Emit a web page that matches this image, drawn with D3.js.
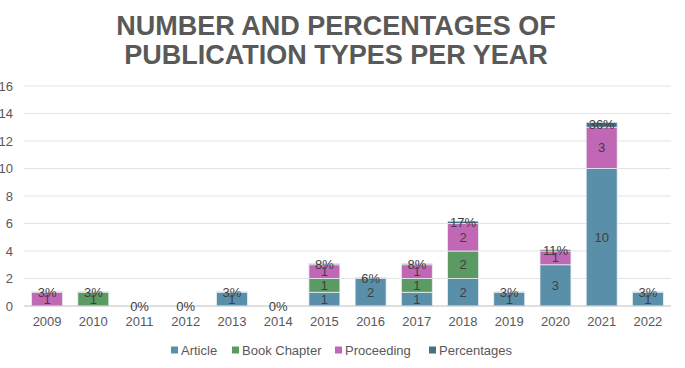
<!DOCTYPE html>
<html>
<head>
<meta charset="utf-8">
<script src="https://cdn.jsdelivr.net/npm/d3@7"></script>
<style>
  body { margin: 0; background: #fff; }
  text { font-family: "Liberation Sans", Arial, sans-serif; }
</style>
</head>
<body>
<svg id="chart"></svg>
<script>
// data
const years = ["2009", "2010", "2011", "2012", "2013", "2014", "2015", "2016", "2017", "2018", "2019", "2020", "2021", "2022"];
const article = [0, 0, 0, 0, 1, 0, 1, 2, 1, 2, 1, 3, 10, 1];
const bookChapter = [0, 1, 0, 0, 0, 0, 1, 0, 1, 2, 0, 0, 0, 0];
const proceeding = [1, 0, 0, 0, 0, 0, 1, 0, 1, 2, 0, 1, 3, 0];
const percentages = [0.03, 0.03, 0, 0, 0.03, 0, 0.08, 0.06, 0.08, 0.17, 0.03, 0.11, 0.36, 0.03];
const yTicks = [0, 2, 4, 6, 8, 10, 12, 14, 16];

const seriesNames = ["Article", "Book Chapter", "Proceeding", "Percentages"];
const colors = ["#5a8fa9", "#5c9a63", "#c067b6", "#4b6f84"];

const width = 685, height = 368;
const margin = { top: 86, right: 14, bottom: 62, left: 24 };

const svg = d3.select("#chart")
    .attr("width", width)
    .attr("height", height);

// title
const title = svg.append("text")
    .attr("text-anchor", "middle")
    .style("font-size", "27px")
    .style("font-weight", "bold")
    .attr("fill", "#595959");
title.append("tspan").attr("x", 336).attr("y", 35).text("NUMBER AND PERCENTAGES OF");
title.append("tspan").attr("x", 336).attr("y", 64).text("PUBLICATION TYPES PER YEAR");

const rows = years.map((y, i) => ({
    year: y,
    "Article": article[i],
    "Book Chapter": bookChapter[i],
    "Proceeding": proceeding[i],
    "Percentages": percentages[i]
}));

const stack = d3.stack().keys(seriesNames)(rows);

const x = d3.scaleBand()
    .domain(years)
    .range([margin.left, width - margin.right])
    .paddingInner(0.33)
    .paddingOuter(0.165);

const y = d3.scaleLinear()
    .domain([0, 16])
    .range([height - margin.bottom, margin.top]);

// gridlines
svg.append("g")
    .selectAll("line")
    .data(yTicks.slice(1))
    .enter()
    .append("line")
    .attr("x1", margin.left)
    .attr("x2", width - margin.right)
    .attr("y1", d => y(d))
    .attr("y2", d => y(d))
    .attr("stroke", "#e3e3e3")
    .attr("stroke-width", 1);

// y labels
svg.append("g")
    .selectAll("text")
    .data(yTicks)
    .enter()
    .append("text")
    .attr("x", 13)
    .attr("y", d => y(d))
    .attr("dy", "0.35em")
    .attr("text-anchor", "end")
    .style("font-size", "13px")
    .attr("fill", "#595959")
    .text(d => d);

// bars
const layers = svg.append("g")
    .selectAll("g")
    .data(stack)
    .enter()
    .append("g")
    .attr("fill", (d, i) => colors[i]);

layers.selectAll("rect")
    .data(d => d)
    .enter()
    .append("rect")
    .attr("x", d => x(d.data.year))
    .attr("y", d => y(d[1]))
    .attr("width", x.bandwidth())
    .attr("height", d => y(d[0]) - y(d[1]))
    .attr("stroke", "#e8eef2")
    .attr("stroke-width", 0.8);

// x axis line
svg.append("line")
    .attr("x1", margin.left)
    .attr("x2", width - margin.right)
    .attr("y1", y(0))
    .attr("y2", y(0))
    .attr("stroke", "#bfbfbf")
    .attr("stroke-width", 1);

// x labels
svg.append("g")
    .selectAll("text")
    .data(years)
    .enter()
    .append("text")
    .attr("x", d => x(d) + x.bandwidth() / 2)
    .attr("y", y(0) + 20)
    .attr("text-anchor", "middle")
    .style("font-size", "13px")
    .attr("fill", "#595959")
    .text(d => d);

// value labels (count series)
stack.slice(0, 3).forEach(layer => {
    svg.append("g")
        .selectAll("text")
        .data(layer.filter(d => d[1] - d[0] > 0))
        .enter()
        .append("text")
        .attr("x", d => x(d.data.year) + x.bandwidth() / 2)
        .attr("y", d => y((d[0] + d[1]) / 2))
        .attr("dy", "0.35em")
        .attr("text-anchor", "middle")
        .style("font-size", "13px")
        .attr("fill", "#404040")
        .text(d => d[1] - d[0]);
});

// percentage labels
svg.append("g")
    .selectAll("text")
    .data(stack[3])
    .enter()
    .append("text")
    .attr("x", d => x(d.data.year) + x.bandwidth() / 2)
    .attr("y", d => y((d[0] + d[1]) / 2))
    .attr("dy", "0.35em")
    .attr("text-anchor", "middle")
    .style("font-size", "13px")
    .attr("fill", "#404040")
    .text(d => d3.format(".0%")(d.data["Percentages"]));

// legend
const legendX = [171, 232, 335, 429];
const legend = svg.append("g")
    .selectAll("g")
    .data(seriesNames)
    .enter()
    .append("g")
    .attr("transform", (d, i) => `translate(${legendX[i]}, 350)`);

legend.append("rect")
    .attr("x", 0)
    .attr("y", -3.5)
    .attr("width", 7)
    .attr("height", 7)
    .attr("fill", (d, i) => colors[i]);

legend.append("text")
    .attr("x", 10)
    .attr("y", 0)
    .attr("dy", "0.35em")
    .style("font-size", "13px")
    .attr("fill", "#595959")
    .text(d => d);
</script>
</body>
</html>
